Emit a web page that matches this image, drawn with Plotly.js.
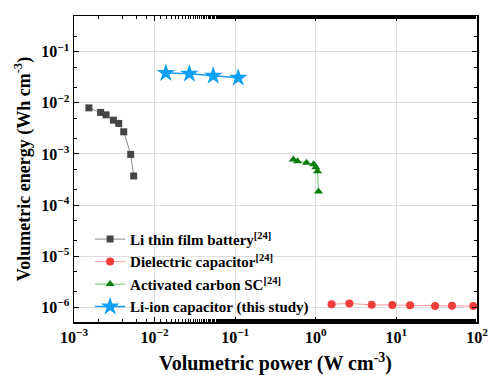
<!DOCTYPE html>
<html><head><meta charset="utf-8">
<script src="https://cdn.plot.ly/plotly-3.0.1.min.js"></script>
<style>html,body{margin:0;padding:0;background:#fff}#c{width:490px;height:375px}</style>
</head><body><div id="c"></div>
<script>
var batteryPower = [0.00153, 0.00214, 0.00250, 0.00308, 0.00359, 0.00414, 0.00505, 0.00550];
var batteryEnergy = [0.00798, 0.00649, 0.00582, 0.00458, 0.00395, 0.00271, 0.00098, 0.00037];
var dielectricPower = [1.57, 2.61, 4.94, 8.9, 14.8, 30.2, 49, 90];
var dielectricEnergy = [1.145e-6, 1.18e-6, 1.11e-6, 1.10e-6, 1.09e-6, 1.06e-6, 1.07e-6, 1.05e-6];
var carbonPower = [0.526, 0.593, 0.767, 0.94, 1.0, 1.05, 1.08];
var carbonEnergy = [0.00078, 0.00072, 0.00067, 0.00063, 0.00055, 0.00046, 0.000183];
var licPower = [0.0138, 0.027, 0.0534, 0.109];
var licEnergy = [0.0383, 0.0370, 0.0339, 0.0310];
var names = ['<b>Li thin film battery<sup>[24]</sup></b>', '<b>Dielectric capacitor<sup>[24]</sup></b>', '<b>Activated carbon SC<sup>[24]</sup></b>', '<b>Li-ion capacitor (this study)</b>'];
var xTickVals = [1e-3, 1e-2, 1e-1, 1, 10, 100];
var xTickText = ['<b>10<sup>\u22123</sup></b>', '<b>10<sup>\u22122</sup></b>', '<b>10<sup>\u22121</sup></b>', '<b>10<sup>0</sup></b>', '<b>10<sup>1</sup></b>', '<b>10<sup>2</sup></b>'];
var yTickVals = [1e-6, 1e-5, 1e-4, 1e-3, 1e-2, 1e-1];
var yTickText = ['<b>10<sup>\u22126</sup></b>', '<b>10<sup>\u22125</sup></b>', '<b>10<sup>\u22124</sup></b>', '<b>10<sup>\u22123</sup></b>', '<b>10<sup>\u22122</sup></b>', '<b>10<sup>\u22121</sup></b>'];

var font = 'Liberation Serif, Times New Roman, serif';
var traces = [
  {x: batteryPower, y: batteryEnergy, name: names[0], mode: 'lines+markers',
   line: {color: '#8c8c8c', width: 1}, marker: {symbol: 'square', size: 7, color: '#454545'}},
  {x: dielectricPower, y: dielectricEnergy, name: names[1], mode: 'lines+markers',
   line: {color: '#ff9a9a', width: 1}, marker: {symbol: 'circle', size: 8, color: '#f23c3c'}},
  {x: carbonPower, y: carbonEnergy, name: names[2], mode: 'lines+markers',
   line: {color: '#6cc06c', width: 1}, marker: {symbol: 'triangle-up', size: 8, color: '#0a7d0a'}},
  {x: licPower, y: licEnergy, name: names[3], mode: 'lines+markers',
   line: {color: '#1a9cf0', width: 1.5}, marker: {symbol: 'star', size: 14, color: '#0ea0f5'}}
];
var axisCommon = {
  type: 'log', showline: true, linecolor: '#000', linewidth: 1.5, mirror: 'ticks',
  ticks: 'inside', ticklen: 5, tickwidth: 1, tickcolor: '#000',
  showgrid: true, gridcolor: '#dddddd', gridwidth: 1, zeroline: false,
  minor: {ticks: 'inside', ticklen: 3, tickcolor: '#000', showgrid: false},
  tickfont: {family: font, size: 16, color: '#000'}
};
var layout = {
  width: 490, height: 375,
  margin: {l: 74, r: 13, t: 16, b: 53},
  paper_bgcolor: '#fff', plot_bgcolor: '#fff',
  font: {family: font, color: '#000'},
  showlegend: true,
  legend: {x: 0.04, y: 0.324, xanchor: 'left', yanchor: 'top', bgcolor: 'rgba(0,0,0,0)',
           font: {family: font, size: 15, color: '#000'}, tracegroupgap: 0, itemwidth: 30},
  xaxis: Object.assign({}, axisCommon, {
    range: [-3, 2], tickvals: xTickVals, ticktext: xTickText,
    title: {text: '<b>Volumetric power (W cm<sup>-3</sup>)</b>', font: {family: font, size: 20, color: '#000'}, standoff: 15}
  }),
  yaxis: Object.assign({}, axisCommon, {
    range: [-6.29, -0.3], tickvals: yTickVals, ticktext: yTickText,
    title: {text: '<b>Volumetric energy (Wh cm<sup>-3</sup>)</b>', font: {family: font, size: 18, color: '#000'}, standoff: 6}
  })
};
Plotly.newPlot('c', traces, layout, {displayModeBar: false, staticPlot: true});
</script></body></html>
